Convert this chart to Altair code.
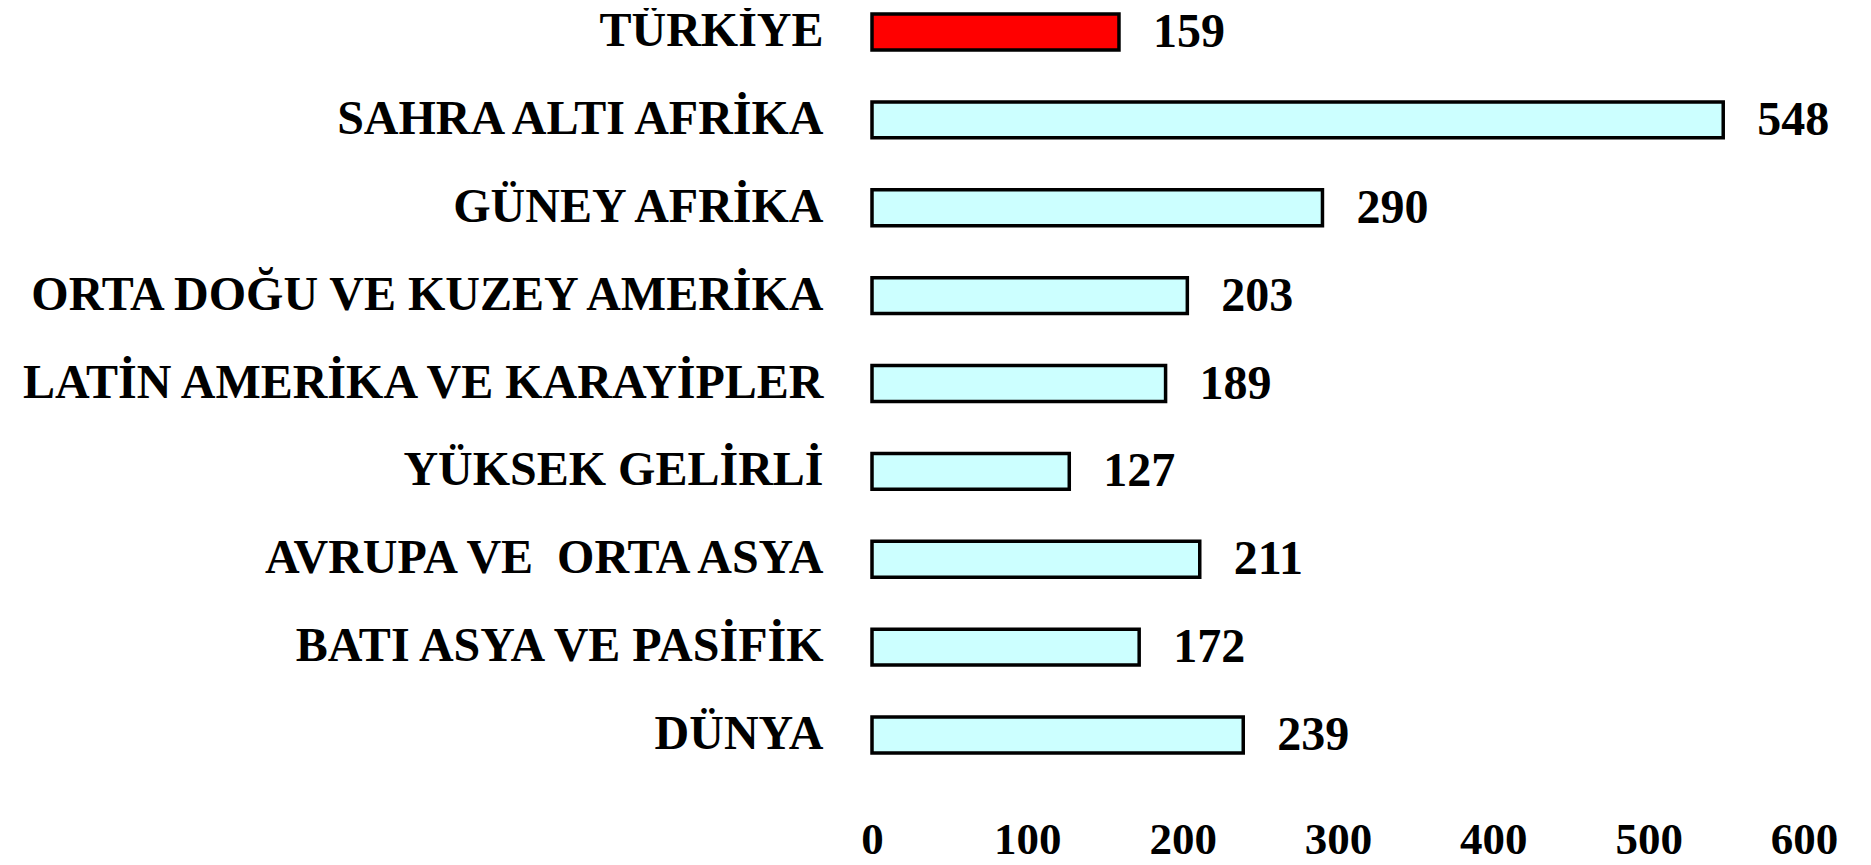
import altair as alt
import pandas as pd

regions = [
    "TÜRKİYE",
    "SAHRA ALTI AFRİKA",
    "GÜNEY AFRİKA",
    "ORTA DOĞU VE KUZEY AMERİKA",
    "LATİN AMERİKA VE KARAYİPLER",
    "YÜKSEK GELİRLİ",
    "AVRUPA VE\u00a0 ORTA ASYA",
    "BATI ASYA VE PASİFİK",
    "DÜNYA",
]
values = [159, 548, 290, 203, 189, 127, 211, 172, 239]
highlight = "TÜRKİYE"
x_ticks = [0, 100, 200, 300, 400, 500, 600]

df = pd.DataFrame({
    "region": regions,
    "value": values,
    "fill": ["#FF0000" if r == highlight else "#CCFFFF" for r in regions],
})

FONT = "Liberation Serif"

y_enc = alt.Y(
    "region:N",
    sort=regions,
    scale=alt.Scale(paddingInner=0.5904, paddingOuter=0),
    axis=alt.Axis(
        title=None, domain=False, ticks=False, grid=False,
        labelFont=FONT, labelFontSize=48, labelFontWeight="bold",
        labelColor="black", labelPadding=49, labelLimit=900,
    ),
)

x_enc = alt.X(
    "value:Q",
    scale=alt.Scale(domain=[0, 600], nice=False),
    axis=alt.Axis(
        title=None, values=x_ticks, grid=False, domain=False, ticks=False,
        labelFont=FONT, labelFontSize=45, labelFontWeight="bold",
        labelColor="black", labelPadding=86, labelBaseline="middle",
        labelFlush=False,
    ),
)

base = alt.Chart(df)

bars = base.mark_bar(stroke="black", strokeWidth=3.5).encode(
    x=x_enc,
    y=y_enc,
    color=alt.Color("fill:N", scale=None),
)

texts = base.mark_text(
    align="left", baseline="middle", dx=34, dy=1,
    font=FONT, fontSize=48, fontWeight="bold", color="black",
).encode(
    x=alt.X("value:Q"),
    y=alt.Y("region:N", sort=regions),
    text=alt.Text("value:Q"),
)

chart = (
    alt.layer(bars, texts)
    .properties(
        width=932, height=739, autosize="none", background="white",
        padding={"left": 864, "top": 6, "right": 50, "bottom": 125},
    )
    .configure_view(stroke="transparent", strokeWidth=0)
)

chart.save("out.html", embed_options={"renderer": "svg", "actions": False})
